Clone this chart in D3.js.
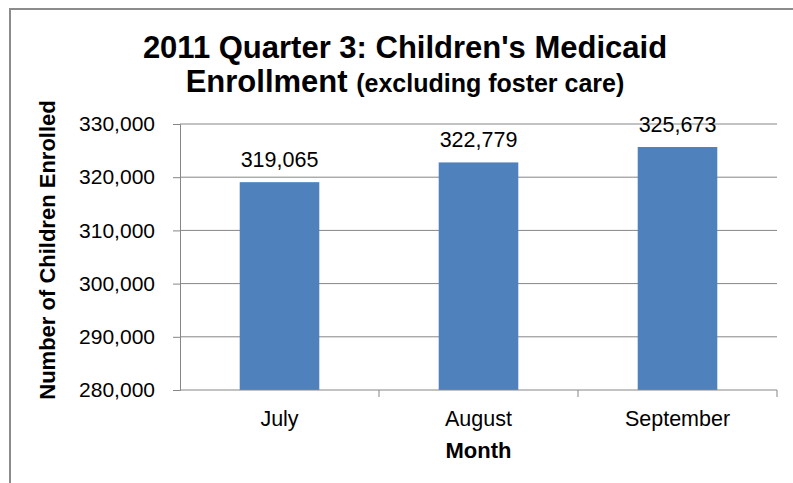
<!DOCTYPE html>
<html>
<head>
<meta charset="utf-8">
<script src="https://cdn.jsdelivr.net/npm/d3@7"></script>
<style>
  body { margin: 0; background: #fff; }
  svg { font-family: "Liberation Sans", Arial, sans-serif; }
</style>
</head>
<body>
<svg id="chart" width="793" height="483"></svg>
<script>
// data
const months = ["July", "August", "September"];
const enrolled = [319065, 322779, 325673];
const yTicks = [280000, 290000, 300000, 310000, 320000, 330000];

const width = 793, height = 483;
const margin = { top: 124, right: 16, bottom: 93, left: 180 };

const svg = d3.select("#chart");

// outer frame (cut off on right and bottom like the source)
svg.append("rect")
  .attr("x", 10).attr("y", 9)
  .attr("width", 800).attr("height", 500)
  .attr("fill", "none")
  .attr("stroke", "#8c8c8c")
  .attr("stroke-width", 2);

const x = d3.scaleBand()
  .domain(months)
  .range([margin.left, width - margin.right])
  .paddingInner(0.6)
  .paddingOuter(0.3);

const y = d3.scaleLinear()
  .domain([280000, 330000])
  .range([height - margin.bottom, margin.top]);

// gridlines
svg.append("g")
  .selectAll("line")
  .data(yTicks.slice(1))
  .join("line")
  .attr("x1", margin.left).attr("x2", width - margin.right)
  .attr("y1", d => y(d)).attr("y2", d => y(d))
  .attr("stroke", "#868686").attr("stroke-width", 1);

// y axis
const yAxis = svg.append("g")
  .attr("transform", `translate(${margin.left},0)`)
  .call(d3.axisLeft(y).tickValues(yTicks).tickFormat(d3.format(",")).tickSize(7).tickPadding(18));
yAxis.select(".domain").attr("stroke", "#868686");
yAxis.selectAll(".tick line").attr("stroke", "#868686");
yAxis.selectAll("text").attr("font-size", 21).attr("fill", "#000").attr("font-family", "Liberation Sans, Arial");

// bars
svg.append("g")
  .selectAll("rect")
  .data(months)
  .join("rect")
  .attr("x", d => x(d))
  .attr("width", x.bandwidth())
  .attr("y", (d, i) => y(enrolled[i]))
  .attr("height", (d, i) => y(280000) - y(enrolled[i]))
  .attr("fill", "#4f81bd");

// value labels
svg.append("g")
  .selectAll("text")
  .data(months)
  .join("text")
  .attr("x", d => x(d) + x.bandwidth() / 2)
  .attr("y", (d, i) => y(enrolled[i]) - 15)
  .attr("text-anchor", "middle")
  .attr("font-size", 21.5)
  .text((d, i) => d3.format(",")(enrolled[i]));

// x axis
const xOuter = d3.scaleBand().domain(months).range([margin.left, width - margin.right]);
const xAxis = svg.append("g")
  .attr("transform", `translate(0,${height - margin.bottom})`);
xAxis.append("line")
  .attr("x1", margin.left).attr("x2", width - margin.right)
  .attr("stroke", "#868686");
xAxis.selectAll("line.tk")
  .data(months)
  .join("line")
  .attr("class", "tk")
  .attr("x1", d => xOuter(d) + xOuter.bandwidth()).attr("x2", d => xOuter(d) + xOuter.bandwidth())
  .attr("y1", 0).attr("y2", 7)
  .attr("stroke", "#868686");
xAxis.selectAll("text")
  .data(months)
  .join("text")
  .attr("x", d => x(d) + x.bandwidth() / 2)
  .attr("y", 36)
  .attr("text-anchor", "middle")
  .attr("font-size", 21.5)
  .text(d => d);

// axis titles
svg.append("text")
  .attr("x", x("August") + x.bandwidth() / 2)
  .attr("y", 458)
  .attr("text-anchor", "middle")
  .attr("font-size", 22)
  .attr("font-weight", "bold")
  .text("Month");

svg.append("text")
  .attr("transform", "translate(55,250) rotate(-90)")
  .attr("text-anchor", "middle")
  .attr("font-size", 22)
  .attr("font-weight", "bold")
  .text("Number of Children Enrolled");

// title
svg.append("text")
  .attr("x", 405).attr("y", 58)
  .attr("text-anchor", "middle")
  .attr("font-size", 31)
  .attr("font-weight", "bold")
  .text("2011 Quarter 3: Children's Medicaid");

const t2 = svg.append("text")
  .attr("x", 405).attr("y", 92)
  .attr("text-anchor", "middle")
  .attr("font-weight", "bold");
t2.append("tspan").attr("font-size", 31).text("Enrollment ");
t2.append("tspan").attr("font-size", 25).text("(excluding foster care)");
</script>
</body>
</html>
